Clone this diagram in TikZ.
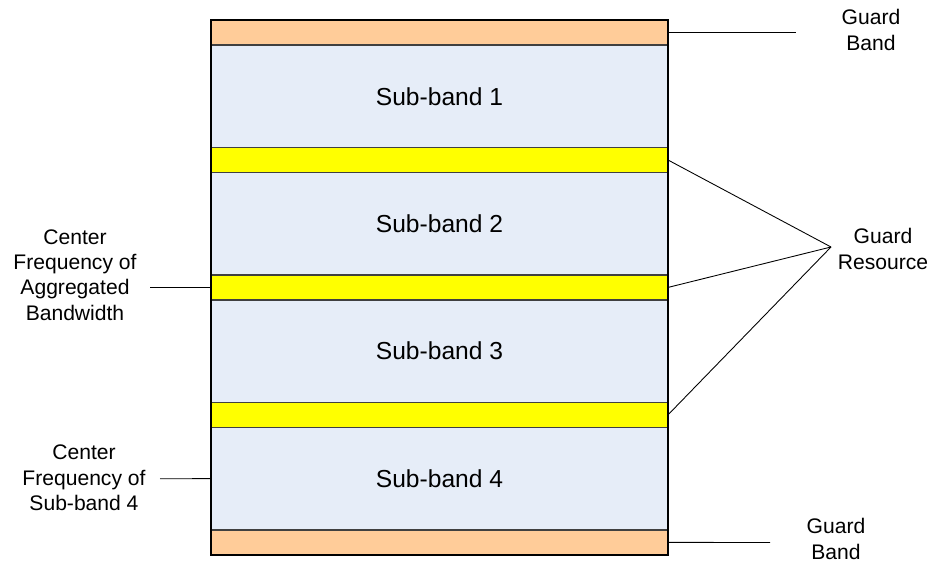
\documentclass[tikz,border=0pt]{standalone}
\usepackage{fontspec}
\setmainfont{Liberation Sans}
\usepackage{tikz}
\usetikzlibrary{positioning}
\definecolor{peach}{HTML}{FFCC99}
\definecolor{paleblue}{HTML}{E6EDF8}
\definecolor{guardyel}{HTML}{FFFF00}
\definecolor{edge}{HTML}{404040}

\begin{document}
\begin{tikzpicture}[x=0.02cm, y=-0.02cm,
  node distance=0pt,
  band/.style={rectangle, draw=edge, line width=0.8pt, outer sep=0pt,
    inner sep=0pt, minimum width=9.14cm},
  subband/.style={band, fill=paleblue, minimum height=2.05cm,
    font=\fontsize{14}{17}\selectfont},
  guardband/.style={band, fill=peach, minimum height=0.5cm},
  guardres/.style={band, fill=guardyel, minimum height=0.5cm},
  lbl/.style={align=center, font=\fontsize{12}{14.5}\selectfont, inner sep=0pt},
  lead/.style={draw=black, line width=0.5pt}
]
\useasboundingbox (0,0) rectangle (938,563);

% the band stack
\node[guardband] (gtop) at (439.5,32.5) {};
\node[subband, below=of gtop] (sb1) {Sub-band 1};
\node[guardres, below=of sb1] (gr1) {};
\node[subband, below=of gr1] (sb2) {Sub-band 2};
\node[guardres, below=of sb2] (gr2) {};
\node[subband, below=of gr2] (sb3) {Sub-band 3};
\node[guardres, below=of sb3] (gr3) {};
\node[subband, below=of gr3] (sb4) {Sub-band 4};
\node[guardband, below=of sb4] (gbot) {};
\draw[black, line width=0.8pt] (gtop.north west) rectangle (gbot.south east);

% guard band labels
\node[lbl] (gtoplbl) at (871,30) {Guard\\Band};
\coordinate (gtopend) at (796,32.5);
\draw[lead] (gtop.east) -- (gtopend);

\node[lbl] (gbotlbl) at (836,539) {Guard\\Band};
\coordinate (gbotend) at (770,542.5);
\draw[lead] (gbot.east) -- (gbotend);

% guard resource
\node[lbl] (grlbl) at (883,249) {Guard\\Resource};
\coordinate (apex) at (831,247);
\foreach \g in {gr1,gr2,gr3}
  \draw[lead] (\g.east) -- (apex);

% center frequencies
\node[lbl] (cfagg) at (75,275) {Center\\Frequency of\\Aggregated\\Bandwidth};
\coordinate (cfaggend) at (150,287.5);
\draw[lead] (cfaggend) -- (gr2.west);

\node[lbl] (cfsb4) at (84,478) {Center\\Frequency of\\Sub-band 4};
\coordinate (cfsb4end) at (160,478.75);
\draw[lead] (cfsb4end) -- (sb4.west);
\end{tikzpicture}
\end{document}
